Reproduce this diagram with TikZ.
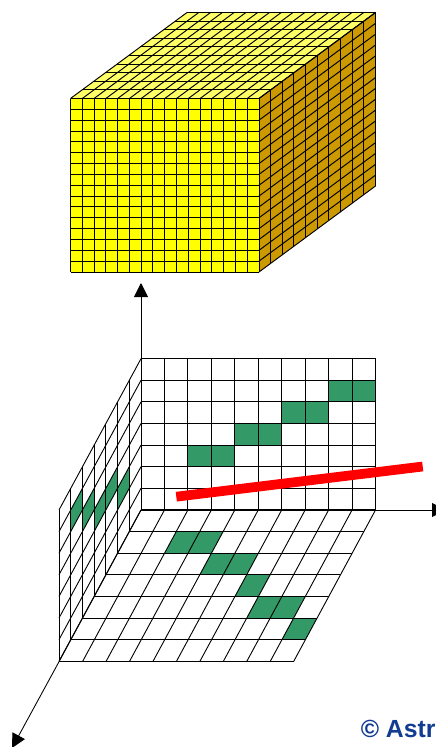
\documentclass[tikz,border=0pt]{standalone}
\usepackage{fontspec}
\setmainfont{Liberation Sans}
\usetikzlibrary{arrows.meta}
\definecolor{cubeY}{RGB}{255,255,0}
\definecolor{cubeT}{RGB}{255,255,102}
\definecolor{cubeS}{RGB}{204,153,0}
\definecolor{cellG}{RGB}{51,153,102}
\definecolor{logoB}{RGB}{17,60,145}
\tikzset{
  gridline/.style={draw=black,line width=0.68pt,line join=miter},
  cubeline/.style={draw=black,line width=0.72pt},
  axisline/.style={draw=black,line width=0.65pt,-{Triangle[length=10.5pt,width=10.5pt]}},
  redbar/.style={draw=red,line width=7.3pt}}
\begin{document}
\begin{tikzpicture}[x=0.75pt,y=-0.75pt]
\useasboundingbox (0,0) rectangle (436,747);
\begin{scope}
\clip (0,0) rectangle (436,747);
% cube
\fill[cubeT] (70.5,98.5) -- (187,12.5) -- (375.5,12.5) -- (259,98.5) -- cycle;
\fill[cubeS] (259,98.5) -- (375.5,12.5) -- (375.5,186) -- (259,272) -- cycle;
\fill[cubeY] (70.5,98.5) rectangle (259,272);
\foreach \i in {0,...,16}{
  \pgfmathsetmacro\xx{70.5+\i*11.78125}
  \draw[cubeline] (\xx,98.5) -- (\xx,272);
  \draw[cubeline] (\xx,98.5) -- ({\xx+116.5},12.5);
  \pgfmathsetmacro\yy{98.5+\i*10.84375}
  \draw[cubeline] (70.5,\yy) -- (259,\yy);
  \draw[cubeline] (259,\yy) -- (375.5,{\yy-86});
}
\foreach \i in {0,...,10}{
  \pgfmathsetmacro\dx{\i*11.65}
  \pgfmathsetmacro\dy{\i*8.6}
  \draw[cubeline] ({70.5+\dx},{98.5-\dy}) -- ({259+\dx},{98.5-\dy});
  \draw[cubeline] ({259+\dx},{98.5-\dy}) -- ({259+\dx},{272-\dy});
}
% green cells: back wall
\foreach \c/\r in {8/1,9/1,6/2,7/2,4/3,5/3,2/4,3/4}{
  \fill[cellG] ({141+\c*23.45},{358.7+\r*21.6}) rectangle ({141+(\c+1)*23.45},{358.7+(\r+1)*21.6});
}
% green cells: floor
\foreach \u/\v in {2/1,3/1,4/2,5/2,6/3,7/4,8/4,9/5}{
  \fill[cellG] ({141+\u*23.45-\v*11.7},{510+\v*21.6}) -- ({141+(\u+1)*23.45-\v*11.7},{510+\v*21.6})
    -- ({141+(\u+1)*23.45-(\v+1)*11.7},{510+(\v+1)*21.6}) -- ({141+\u*23.45-(\v+1)*11.7},{510+(\v+1)*21.6}) -- cycle;
}
% green cells: side wall
\foreach \v/\h in {1/4,2/3,3/3,4/2,5/1}{
  \fill[cellG] ({141-\v*11.7},{358.7+(\h+\v)*21.6}) -- ({141-(\v+1)*11.7},{358.7+(\h+\v+1)*21.6})
    -- ({141-(\v+1)*11.7},{358.7+(\h+\v+2)*21.6}) -- ({141-\v*11.7},{358.7+(\h+\v+1)*21.6}) -- cycle;
}
% back wall grid
\foreach \c in {0,...,10}{\draw[gridline] ({141+\c*23.45},358.7) -- ({141+\c*23.45},510);}
\foreach \r in {0,...,7}{\draw[gridline] (141,{358.7+\r*21.6}) -- (375.5,{358.7+\r*21.6});}
% floor grid
\foreach \u in {0,...,10}{\draw[gridline] ({141+\u*23.45},510) -- ({59+\u*23.45},661.7);}
\foreach \v in {0,...,7}{\draw[gridline] ({141-\v*11.7},{510+\v*21.6}) -- ({375.5-\v*11.7},{510+\v*21.6});}
% side wall grid
\foreach \v in {0,...,7}{\draw[gridline] ({141-\v*11.7},{358.7+\v*21.6}) -- ({141-\v*11.7},{510+\v*21.6});}
\foreach \h in {0,...,7}{\draw[gridline] (141,{358.7+\h*21.6}) -- (59,{510+\h*21.6});}
% axes
\coordinate (origin) at (141,510);
\coordinate (floorcorner) at (59,661.7);
\coordinate (tipup) at (141,283);
\coordinate (tipright) at (446,510);
\coordinate (tipdown) at (12,748);
\draw[axisline] (origin) -- (tipup);
\draw[axisline] (origin) -- (tipright);
\draw[axisline] (floorcorner) -- (tipdown);
% red bar
\coordinate (redA) at (176.3,496.7);
\coordinate (redB) at (422.7,466.5);
\draw[redbar] (redA) -- (redB);
\node[anchor=base west,inner sep=0pt,text=logoB,font=\bfseries\fontsize{18.6pt}{20pt}\selectfont] (logo) at (360.5,737) {© Astr};
\end{scope}
\end{tikzpicture}
\end{document}
